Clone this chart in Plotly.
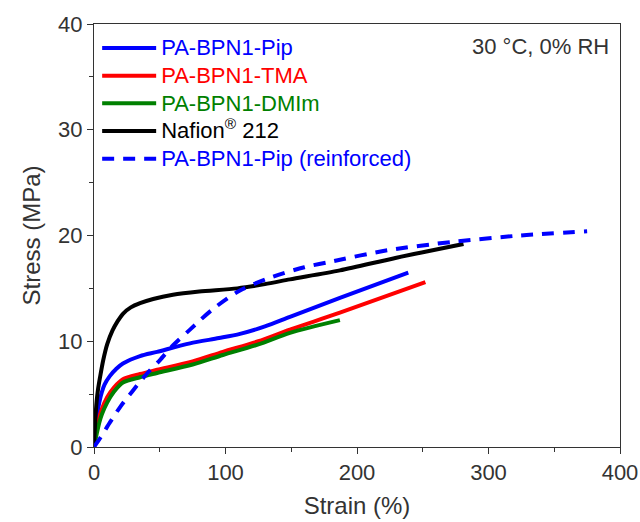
import plotly.graph_objects as go

# ---- data ----
pip_strain = [0, 1, 2, 4, 6, 8, 12, 17, 22, 35, 48, 73, 95, 111, 130, 149, 187, 239]
pip_stress = [0, 1.5, 2.7, 4.2, 5.2, 5.9, 6.7, 7.4, 7.9, 8.6, 9.0, 9.8, 10.3, 10.7, 11.4, 12.3, 14.1, 16.5]

tma_strain = [0, 2, 4, 6, 10, 15, 22, 35, 48, 75, 98, 125, 149, 187, 252]
tma_stress = [0, 1.6, 2.8, 3.6, 4.7, 5.6, 6.4, 6.9, 7.3, 8.1, 9.0, 10.0, 11.1, 12.7, 15.6]

dmim_strain = [0, 2, 4, 6, 10, 15, 22, 35, 48, 75, 98, 125, 149, 187]
dmim_stress = [0, 1.2, 2.3, 3.1, 4.2, 5.2, 6.1, 6.6, 7.0, 7.8, 8.7, 9.7, 10.8, 12.0]

nafion_strain = [0, 1, 2, 3, 4.6, 7, 10, 14, 18, 22, 28, 35, 45, 60, 80, 109, 130, 149, 187, 230, 281]
nafion_stress = [0, 2.6, 4.3, 5.4, 6.6, 8.2, 9.7, 11.0, 11.9, 12.6, 13.2, 13.6, 14.0, 14.4, 14.7, 15.0, 15.4, 15.85, 16.7, 17.9, 19.2]

reinf_strain = [0, 5, 12, 20, 30, 40, 50, 60, 73, 90, 111, 136, 160, 179, 223, 273, 324, 375]
reinf_stress = [0, 0.9, 2.3, 3.8, 5.4, 6.9, 8.2, 9.6, 11.1, 13.0, 14.8, 16.1, 17.0, 17.5, 18.6, 19.4, 20.0, 20.4]

series_names = ["PA-BPN1-Pip", "PA-BPN1-TMA", "PA-BPN1-DMIm",
                "Nafion<sup>®</sup> 212", "PA-BPN1-Pip (reinforced)"]
series_colors = ["#0000ff", "#ff0000", "#008000", "#000000", "#0000ff"]
series_dash = ["solid", "solid", "solid", "solid", "12px,9px"]

x_ticks = [0, 100, 200, 300, 400]
y_ticks = [0, 10, 20, 30, 40]
condition_label = "30 °C, 0% RH"

xs = [pip_strain, tma_strain, dmim_strain, nafion_strain, reinf_strain]
ys = [pip_stress, tma_stress, dmim_stress, nafion_stress, reinf_stress]

FONT = "Liberation Sans, Arial, sans-serif"
TXT = "#333333"

fig = go.Figure()
for x, y, name, col, dash in zip(xs, ys, series_names, series_colors, series_dash):
    fig.add_trace(go.Scatter(
        x=x, y=y, mode="lines", line_shape="spline", line_smoothing=0.8,
        line=dict(color=col, width=4, dash=dash),
        name=f"<span style='color:{col};font-size:22px'>{name}</span>",
    ))

axis_common = dict(
    showgrid=False, zeroline=False, showline=True, linecolor="#333333",
    linewidth=1, mirror=True, ticks="outside", ticklen=6, tickwidth=1,
    tickcolor="#333333", tickfont=dict(family=FONT, size=22, color=TXT),
    automargin=False,
)
fig.update_xaxes(
    range=[0, 400], tickvals=x_ticks,
    minor=dict(ticks="outside", ticklen=4, dtick=50, tickcolor="#333333"),
    title=dict(text="Strain (%)", font=dict(family=FONT, size=24, color=TXT), standoff=12),
    **axis_common,
)
fig.update_yaxes(
    range=[0, 40], tickvals=y_ticks,
    minor=dict(ticks="outside", ticklen=4, dtick=5, tickcolor="#333333"),
    title=dict(text="Stress (MPa)", font=dict(family=FONT, size=24, color=TXT), standoff=10),
    **axis_common,
)

fig.add_annotation(
    text=condition_label, xref="paper", yref="paper", x=0.983, y=0.946,
    xanchor="right", yanchor="middle", showarrow=False,
    font=dict(family=FONT, size=22, color=TXT),
)

fig.update_layout(
    width=640, height=522,
    margin=dict(l=94, r=20, t=24, b=75),
    paper_bgcolor="white", plot_bgcolor="white",
    font=dict(family=FONT, size=22, color=TXT),
    legend=dict(
        x=0.006, y=0.988, xanchor="left", yanchor="top",
        bgcolor="rgba(0,0,0,0)", font=dict(family=FONT, size=19),
        itemwidth=54, tracegroupgap=0,
    ),
)

fig.write_html("out.html", config={"displayModeBar": False},
               post_script="document.body.style.margin='0';document.body.style.padding='0';")
